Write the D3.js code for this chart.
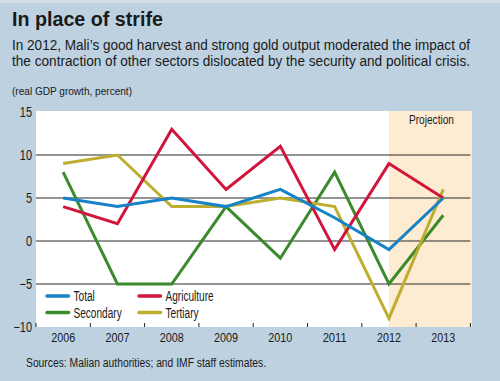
<!DOCTYPE html>
<html><head><meta charset="utf-8">
<script src="https://cdn.jsdelivr.net/npm/d3@7"></script>
<style>
html,body{margin:0;padding:0;background:#bdd1e1;}
svg{display:block;}
text{font-family:"Liberation Sans",Arial,sans-serif;fill:#1a1a1a;}
</style></head>
<body>
<script>
const years = ["2006","2007","2008","2009","2010","2011","2012","2013"];
const total = [5, 4, 5, 4, 6, 2.7, -1, 5];
const agriculture = [4, 2, 13, 6, 11, -1, 9, 5];
const secondary = [8, -5, -5, 4, -2, 8, -5, 3];
const tertiary = [9, 10, 4, 4, 5, 4, -9, 6];
const yTicks = [-10, -5, 0, 5, 10, 15];
const gridValues = [-5, 0, 5, 10];
const seriesNames = ["Total", "Agriculture", "Secondary", "Tertiary"];
const projectionYear = "2012";

(function(){
const W = 500, H = 381;
const svg = d3.select("body").append("svg").attr("width", W).attr("height", H);

// squeeze text horizontally to a condensed look
const condense = (sel, ratio) => sel.each(function(){
  const w = this.getComputedTextLength();
  d3.select(this).attr("textLength", w * ratio).attr("lengthAdjust", "spacingAndGlyphs");
});

svg.append("rect").attr("width", W).attr("height", H).attr("fill", "#bdd1e1");
svg.append("rect").attr("width", W).attr("height", 3).attr("fill", "#cfdde9");

// Title & texts
svg.append("text").attr("x", 12).attr("y", 26)
  .style("font-weight", "bold").style("font-size", "19.5px").attr("fill", "#111")
  .attr("textLength", 151).attr("lengthAdjust", "spacingAndGlyphs")
  .text("In place of strife");
svg.append("text").attr("x", 12).attr("y", 50).style("font-size", "14px")
  .attr("textLength", 458).attr("lengthAdjust", "spacingAndGlyphs")
  .text("In 2012, Mali’s good harvest and strong gold output moderated the impact of");
svg.append("text").attr("x", 12).attr("y", 66).style("font-size", "14px")
  .attr("textLength", 458).attr("lengthAdjust", "spacingAndGlyphs")
  .text("the contraction of other sectors dislocated by the security and political crisis.");
svg.append("text").attr("x", 12).attr("y", 95).style("font-size", "11.5px")
  .attr("textLength", 120).attr("lengthAdjust", "spacingAndGlyphs")
  .text("(real GDP growth, percent)");
svg.append("text").attr("x", 26).attr("y", 367).style("font-size", "12px")
  .attr("textLength", 240).attr("lengthAdjust", "spacingAndGlyphs")
  .text("Sources: Malian authorities; and IMF staff estimates.");

const pLeft = 36, pRight = 470.4, pTop = 112, pBottom = 327;
const x = d3.scaleBand().domain(years).range([pLeft, pRight]).padding(0);
const y = d3.scaleLinear().domain([-10, 15]).range([pBottom, pTop]);
const cx = d => x(d) + x.bandwidth() / 2;

// Plot area
svg.append("rect").attr("x", pLeft).attr("y", pTop - 1).attr("width", 472 - pLeft).attr("height", pBottom - pTop + 1).attr("fill", "#ffffff");
svg.append("rect").attr("x", cx(projectionYear)).attr("y", pTop - 1)
  .attr("width", 472 - cx(projectionYear)).attr("height", pBottom - pTop + 1).attr("fill", "#fdebd2");
svg.append("text").attr("x", 409).attr("y", 124).style("font-size", "13.5px")
  .attr("textLength", 45).attr("lengthAdjust", "spacingAndGlyphs")
  .text("Projection");

// Gridlines
svg.append("g").selectAll("line").data(gridValues).join("line")
  .attr("x1", pLeft).attr("x2", pRight).attr("y1", d => y(d)).attr("y2", d => y(d))
  .attr("stroke", "#2a2a2a").attr("stroke-width", 1.2);

// Y axis labels
const yAxis = d3.axisLeft(y).tickValues(yTicks).tickSize(0).tickPadding(4)
  .tickFormat(d => d < 0 ? "−" + Math.abs(d) : d);
const yg = svg.append("g").attr("transform", `translate(${pLeft},0)`).call(yAxis);
yg.select(".domain").remove();
yg.selectAll("text").style("font-size", "14px").style("font-family", "'Liberation Sans', Arial, sans-serif")
  .attr("fill", "#1a1a1a").call(condense, 0.78);

// X axis: ticks at band boundaries pointing up, labels at centers
const boundaries = years.map(d => x(d)).concat([pRight]);
svg.append("g").selectAll("line").data(boundaries).join("line")
  .attr("x1", d => d).attr("x2", d => d).attr("y1", pBottom - 4).attr("y2", pBottom)
  .attr("stroke", "#222").attr("stroke-width", 1);
const xAxis = d3.axisBottom(x).tickSize(0).tickPadding(0);
const xg = svg.append("g").attr("transform", `translate(0,${pBottom})`).call(xAxis);
xg.select(".domain").remove();
xg.selectAll("text").style("font-size", "13.5px").style("font-family", "'Liberation Sans', Arial, sans-serif")
  .attr("dy", "15px").attr("fill", "#1a1a1a")
  .attr("textLength", 24).attr("lengthAdjust", "spacingAndGlyphs");

// Lines
const series = [
  {name: "Secondary", values: secondary, color: "#3b8a2c"},
  {name: "Tertiary", values: tertiary, color: "#bdae30"},
  {name: "Agriculture", values: agriculture, color: "#d1153d"},
  {name: "Total", values: total, color: "#1683c8"}
];
const line = d3.line().x((d, i) => cx(years[i])).y(d => y(d));
svg.append("g").selectAll("path").data(series).join("path")
  .attr("d", d => line(d.values)).attr("fill", "none")
  .attr("stroke", d => d.color).attr("stroke-width", 3)
  .attr("stroke-linejoin", "miter").attr("stroke-miterlimit", 10);

// Legend
const colorOf = n => series.find(s => s.name === n).color;
const legendPos = [
  {name: seriesNames[0], x: 47, y: 296},
  {name: seriesNames[1], x: 139, y: 296},
  {name: seriesNames[2], x: 47, y: 312.5},
  {name: seriesNames[3], x: 139, y: 312.5}
];
const lg = svg.append("g").selectAll("g").data(legendPos).join("g")
  .attr("transform", d => `translate(${d.x},${d.y})`);
lg.append("line").attr("x1", 0).attr("x2", 21.5).attr("y1", 0).attr("y2", 0)
  .attr("stroke", d => colorOf(d.name)).attr("stroke-width", 3.5).attr("stroke-linecap", "round");
lg.append("text").attr("x", 26.5).attr("y", 5).style("font-size", "14px").call(condense, 0.72)
  .text(d => d.name).call(condense, 0.72);
})();
</script>
</body></html>
